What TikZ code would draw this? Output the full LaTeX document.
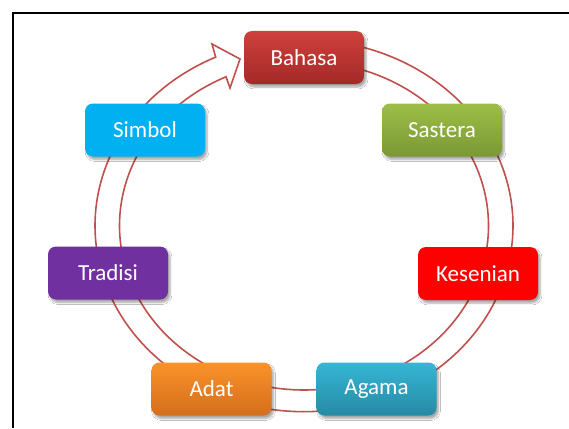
\documentclass[tikz,border=0pt]{standalone}
\usepackage{fontspec}
\setmainfont{Carlito}
\usetikzlibrary{shadows.blur}
\definecolor{bandred}{RGB}{192,80,77}
\tikzset{
  box/.style={rounded corners=8pt, minimum width=120pt, minimum height=53pt,
    text=white, font=\fontsize{23}{27}\selectfont, inner sep=0pt,
    blur shadow={shadow xshift=2pt, shadow yshift=-3pt, shadow blur steps=6, shadow opacity=35}},
  band/.style={draw=bandred, line width=1.6pt, line join=miter}
}
\begin{document}
\begin{tikzpicture}[x=1pt,y=-1pt]
\useasboundingbox (0,0) rectangle (569,428);
\fill[white] (0,0) rectangle (569,428);
% frame
\draw[line width=2pt] (13,428) -- (13,13) -- (569,13);
% circular arrow band
\coordinate (wt) at (212,44);
\coordinate (tip) at (240,59);
\coordinate (wb) at (230,88);
\draw[band] plot[domain=-80:245, samples=150, smooth] ({304+209*cos(\x)},{225.7+186*sin(\x)})
  -- (wt) -- (tip) -- (wb)
  -- plot[domain=245:-80, samples=150, smooth] ({304+184.5*cos(\x)},{225.7+164.3*sin(\x)});
% boxes
\node[box, top color={rgb,255:red,207;green,64;blue,60}, bottom color={rgb,255:red,163;green,42;blue,40}] (bahasa) at (304,57.5) {Bahasa};
\node[box, top color={rgb,255:red,157;green,190;blue,72}, bottom color={rgb,255:red,122;green,152;blue,52}] (sastera) at (442,130) {Sastera};
\node[box, fill={rgb,255:red,255;green,0;blue,0}] (kesenian) at (478,273.5) {Kesenian};
\node[box, top color={rgb,255:red,54;green,182;blue,214}, bottom color={rgb,255:red,38;green,138;blue,164}] (agama) at (376.5,389) {Agama};
\node[box, top color={rgb,255:red,250;green,146;blue,42}, bottom color={rgb,255:red,212;green,110;blue,28}] (adat) at (211.5,389) {Adat};
\node[box, fill={rgb,255:red,112;green,48;blue,160}] (tradisi) at (108,273) {Tradisi};
\node[box, fill={rgb,255:red,0;green,176;blue,240}] (simbol) at (145,130) {Simbol};
\end{tikzpicture}
\end{document}
